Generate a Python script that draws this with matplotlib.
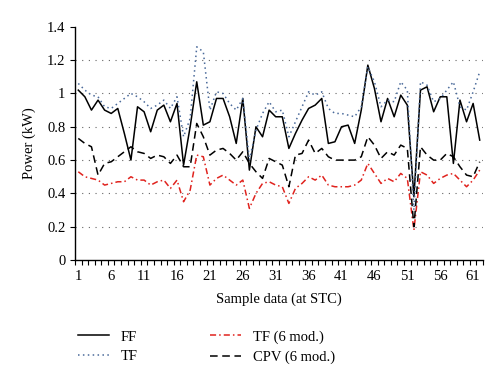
import numpy as np
import matplotlib
matplotlib.use("Agg")
import matplotlib.pyplot as plt
from matplotlib.ticker import FixedLocator

plt.rcParams['font.family'] = ['Liberation Serif', 'DejaVu Serif']

#-------- data -----------------------------------
samples = np.arange(1, 63)

ff = [1.02, 0.98, 0.90, 0.96, 0.90, 0.88, 0.91, 0.76, 0.60, 0.92,
      0.89, 0.77, 0.90, 0.93, 0.83, 0.94, 0.57, 0.80, 1.07, 0.81,
      0.83, 0.97, 0.97, 0.86, 0.70, 0.97, 0.54, 0.80, 0.74, 0.90,
      0.86, 0.86, 0.67, 0.76, 0.84, 0.91, 0.93, 0.97, 0.70, 0.71,
      0.80, 0.81, 0.70, 0.90, 1.17, 1.03, 0.83, 0.97, 0.86, 0.99,
      0.93, 0.38, 1.02, 1.04, 0.89, 0.98, 0.98, 0.58, 0.96, 0.83,
      0.94, 0.72]

tf = [1.06, 1.02, 0.99, 0.98, 0.92, 0.91, 0.94, 0.97, 1.00, 0.98,
      0.95, 0.91, 0.93, 0.96, 0.91, 0.98, 0.74, 0.85, 1.28, 1.25,
      0.90, 1.01, 1.00, 0.94, 0.90, 0.97, 0.60, 0.78, 0.88, 0.95,
      0.89, 0.90, 0.74, 0.83, 0.92, 1.01, 0.99, 1.01, 0.91, 0.88,
      0.88, 0.87, 0.86, 0.92, 1.16, 1.07, 0.92, 0.96, 0.95, 1.07,
      1.02, 0.30, 1.07, 1.05, 0.95, 0.97, 1.02, 1.07, 0.92, 0.90,
      1.01, 1.13]

tf6 = [0.53, 0.50, 0.49, 0.48, 0.45, 0.46, 0.47, 0.47, 0.50, 0.48,
       0.48, 0.45, 0.47, 0.48, 0.43, 0.48, 0.35, 0.42, 0.63, 0.62,
       0.45, 0.49, 0.51, 0.48, 0.45, 0.48, 0.31, 0.40, 0.46, 0.47,
       0.45, 0.44, 0.34, 0.43, 0.46, 0.50, 0.48, 0.51, 0.45, 0.44,
       0.44, 0.44, 0.45, 0.48, 0.58, 0.52, 0.46, 0.49, 0.47, 0.52,
       0.49, 0.18, 0.53, 0.51, 0.46, 0.49, 0.51, 0.52, 0.48, 0.44,
       0.48, 0.54]

cpv6 = [0.73, 0.70, 0.68, 0.51, 0.58, 0.59, 0.62, 0.65, 0.68, 0.65,
        0.64, 0.61, 0.63, 0.62, 0.58, 0.63, 0.56, 0.56, 0.82, 0.74,
        0.63, 0.66, 0.67, 0.64, 0.60, 0.65, 0.58, 0.53, 0.49, 0.61,
        0.59, 0.57, 0.44, 0.63, 0.64, 0.72, 0.64, 0.67, 0.62, 0.60,
        0.60, 0.60, 0.60, 0.62, 0.74, 0.69, 0.61, 0.65, 0.63, 0.69,
        0.67, 0.20, 0.68, 0.63, 0.60, 0.60, 0.64, 0.62, 0.56, 0.51,
        0.50, 0.59]

xlabels = [1, 6, 11, 16, 21, 26, 31, 36, 41, 46, 51, 56, 61]
yticks = [0, 0.2, 0.4, 0.6, 0.8, 1.0, 1.2, 1.4]
ylabels = ['0', '0.2', '0.4', '0.6', '0.8', '1', '1.2', '1.4']
#----------------------------------

fig = plt.figure(figsize=(5.0, 3.83), dpi=100)
ax = fig.add_axes([0.15, 0.321, 0.816, 0.609])

ax.plot(samples, ff, color='black', lw=1.1, label='FF')
ax.plot(samples, tf, color='#4a6a9a', lw=1.1, linestyle=(0, (1, 2.2)), label='TF')
ax.plot(samples, tf6, color='#e0231e', lw=1.1, linestyle=(0, (4, 2, 1, 2)), label='TF (6 mod.)')
ax.plot(samples, cpv6, color='black', lw=1.1, linestyle=(0, (5, 3)), label='CPV (6 mod.)')

ax.set_xlim(0.5, 62.5)
ax.set_ylim(0, 1.4)
ax.set_yticks(yticks)
ax.set_yticklabels(ylabels)
ax.set_xticks(xlabels)
ax.set_xticklabels([str(v) for v in xlabels])
ax.xaxis.set_minor_locator(FixedLocator(np.arange(0.5, 63, 1)))
ax.tick_params(axis='x', which='major', length=0, labelsize=10.5, pad=7)
ax.tick_params(axis='x', which='minor', length=3.5, width=0.8, direction='out')
ax.tick_params(axis='y', which='major', length=3.5, width=0.8, labelsize=10.5)

for yv in yticks[1:-1]:
    ax.axhline(yv, color='#666666', lw=0.8, linestyle=(0, (1, 5)), zorder=0)

for s in ['top', 'right']:
    ax.spines[s].set_visible(False)
ax.spines['left'].set_linewidth(1.0)
ax.spines['bottom'].set_linewidth(1.0)

ax.set_ylabel('Power (kW)', fontsize=10.5, labelpad=8)
ax.set_xlabel('Sample data (at STC)', fontsize=10.5, labelpad=7)

fig.legend(loc='upper left', bbox_to_anchor=(0.13, 0.172), ncol=2, frameon=False,
           fontsize=10.5, handlelength=2.1, columnspacing=5.0, labelspacing=0.45,
           handletextpad=0.8)

fig.savefig('out.png', dpi=100)
